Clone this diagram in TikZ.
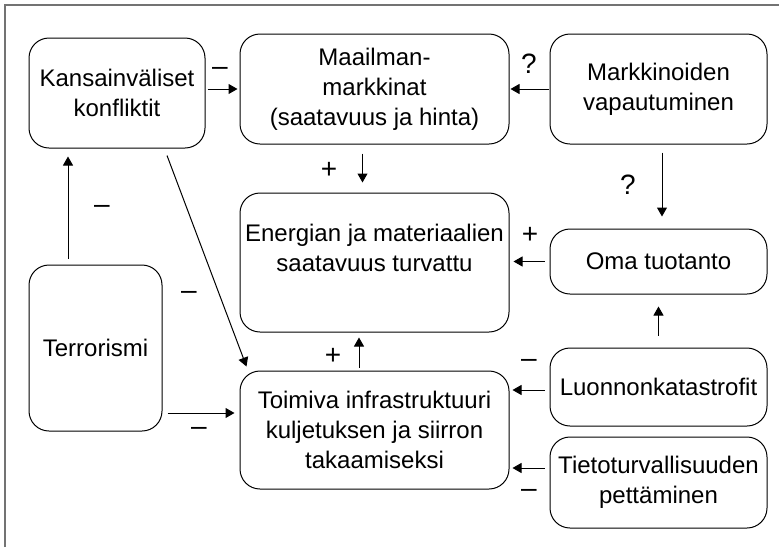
\documentclass[tikz,border=0pt]{standalone}
\usepackage{fontspec}
\setmainfont{Liberation Sans}
\usetikzlibrary{arrows.meta}

\begin{document}
\begin{tikzpicture}[x=1pt, y=-1pt,
    box/.style={draw, line width=1pt, rounded corners=20pt, align=center,
      inner sep=0pt, font=\fontsize{24}{30}\selectfont},
    arr/.style={line width=1pt, -{Triangle[length=9pt, width=10pt]}},
    sign/.style={font=\fontsize{28}{30}\selectfont, inner sep=0pt},
    frame/.style={draw=black!55, line width=1.5pt}]
  \useasboundingbox (0,0) rectangle (779,547);
  %
  \draw[frame] (5,547) -- (5,5) -- (779,5);   % cut frame
  %
  \node[box, minimum width=176pt, minimum height=110pt] (konf) at (117,93) {Kansainväliset\\konfliktit};
  \node[box, minimum width=269pt, minimum height=110pt] (markt) at (374.5,89) {Maailman-\\markkinat\\(saatavuus ja hinta)};
  \node[box, minimum width=217pt, minimum height=110pt] (vapa) at (658.5,89) {Markkinoiden\\vapautuminen};
  \node[box, minimum width=269pt, minimum height=139pt, text depth=30pt] (ener) at (374.5,262.5) {Energian ja materiaalien\\saatavuus turvattu};
  \node[box, minimum width=217pt, minimum height=65pt] (oma) at (658.5,261.5) {Oma tuotanto};
  \node[box, minimum width=133pt, minimum height=166pt] (terr) at (95.5,348) {Terrorismi};
  \node[box, minimum width=269pt, minimum height=118pt] (infra) at (374.5,430) {Toimiva infrastruktuuri\\kuljetuksen ja siirron\\takaamiseksi};
  \node[box, minimum width=217pt, minimum height=78pt] (luon) at (658.5,387) {Luonnonkatastrofit};
  \node[box, minimum width=217pt, minimum height=91pt] (tieto) at (658.5,482.5) {Tietoturvallisuuden\\pettäminen};
  %
  \coordinate (infraIn) at ([yshift=17pt]infra.west);
  %
  \draw[arr, shorten <=2pt, shorten >=2pt] (konf.east |- markt.west) -- (markt.west);
  \draw[arr, shorten <=1pt, shorten >=1pt] (vapa.west) -- (markt.east);
  \draw[arr, shorten <=9pt, shorten >=10pt] ([xshift=-12pt]markt.south) -- ([xshift=-12pt]ener.north);
  \draw[arr, shorten <=8pt, shorten >=12pt] ([xshift=3.5pt]vapa.south) -- ([xshift=3.5pt]oma.north);
  \draw[arr, shorten <=5pt, shorten >=4pt] (oma.west) -- (oma.west -| ener.east);
  \draw[arr, shorten <=12pt, shorten >=12pt] (luon.north) -- (oma.south);
  \draw[arr, shorten <=6pt, shorten >=8pt] ([xshift=-27.5pt]terr.north) -- ([xshift=-27.5pt]terr.north |- konf.south);
  \draw[arr] ([xshift=50pt, yshift=-7pt]konf.south) -- ([xshift=7pt, yshift=4pt]infra.north west);
  \draw[arr, shorten <=5pt, shorten >=5pt] (terr.east |- infraIn) -- (infraIn);
  \draw[arr, shorten <=3pt, shorten >=5pt] ([xshift=-15.5pt]infra.north) -- ([xshift=-15.5pt]ener.south);
  \draw[arr, shorten <=5pt, shorten >=3pt] ([yshift=-3pt]luon.west) -- ([yshift=-3pt]luon.west -| infra.east);
  \draw[arr, shorten <=5pt, shorten >=3pt] ([yshift=14.5pt]tieto.west) -- ([yshift=14.5pt]tieto.west -| infra.east);
  %
  \node[sign] (s1) at (220,71) {–};
  \node[sign] (s2) at (529,64) {?};
  \node[sign] (s3) at (329,170) {+};
  \node[sign] (s4) at (628,185) {?};
  \node[sign] (s5) at (530,235) {+};
  \node[sign] (s6) at (102,209) {–};
  \node[sign] (s7) at (189,295) {–};
  \node[sign] (s8) at (199,431) {–};
  \node[sign] (s9) at (333,356) {+};
  \node[sign] (s10) at (529,363) {–};
  \node[sign] (s11) at (529,493) {–};
  %
\end{tikzpicture}
\end{document}
